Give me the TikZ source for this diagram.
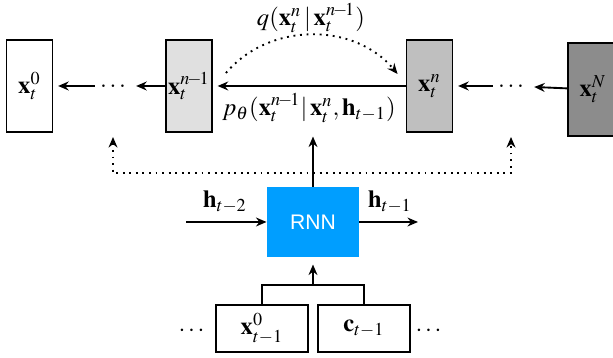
\documentclass[tikz,border=0pt]{standalone}
\usepackage{amsmath}
\usepackage{mathptmx}
\usepackage{bm}
\usepackage{fontspec}
\newfontfamily\rnnfont{Liberation Sans}
\usetikzlibrary{arrows.meta,calc}
\definecolor{rnnblue}{RGB}{0,158,255}
\tikzset{
>={Stealth[length=4.5pt,width=3.8pt]},
box node/.style={draw,thick,minimum width=0.69cm,minimum height=1.38cm,inner sep=0pt},
in node/.style={draw,thick,minimum width=1.38cm,minimum height=0.71cm,inner sep=0pt},
dots node/.style={minimum width=0.54cm,inner sep=0pt},
freccia/.style={->,shorten >=2pt,thick},
punti/.style={->,dotted,thick}}

\begin{document}
\begin{tikzpicture}[x=0.015cm,y=0.015cm,font=\fontsize{10.5}{12}\selectfont]
\useasboundingbox (0,0) rectangle (613,358);

\node[box node] (x0) at (29.5,272) {$\mathbf{x}_t^0$};
\node[dots node] (d1) at (113,272) {$\ldots$};
\node[box node,fill=black!12] (xn1) at (189,272) {$\mathbf{x}_t^{n\!-\!1}$};
\node[box node,fill=black!25] (xn) at (429.5,272) {$\mathbf{x}_t^n$};
\node[dots node] (d2) at (511,272) {$\ldots$};
\node[box node,fill=black!45,minimum width=0.75cm,minimum height=1.4cm,anchor=west] (xN) at (567,268.5) {$\mathbf{x}_t^N$};

\path[freccia] (xn1) edge (d1);
\path[freccia] (d1) edge (x0);
\path[freccia] (xn) edge (xn1);
\path[freccia] (xN) edge (d2);
\path[freccia] (d2) edge (xn);

% forward step
\draw[punti] ($(xn1.east)+(13,13)$) to[bend left=50] ($(xn.west)+(-8,12)$);
\node (q) at (311,340) {$q(\mathbf{x}_t^n\,|\,\mathbf{x}_t^{n\!-\!1})$};
\node (p) at (309,250) {$p_\theta(\mathbf{x}_t^{n\!-\!1}|\,\mathbf{x}_t^n,\mathbf{h}_{t-1})$};

% rnn
\node[fill=rnnblue,minimum width=1.38cm,minimum height=1.05cm,text=white,font=\rnnfont\small] (rnn) at (313,136) {RNN};
\coordinate (hin) at (186,136);
\coordinate (hout) at (418,136);
\draw[->,thick] (hin) -- (rnn);
\draw[->,thick] (rnn) -- (hout);
\node (ht2) at (225,156) {$\mathbf{h}_{t-2}$};
\node (ht1) at (390,156) {$\mathbf{h}_{t-1}$};

\draw[->,thick] (rnn) -- ($(rnn.north)+(0,50)$);
\draw[dotted,thick,<->] ($(d1)+(0,-51)$) -- ($(d1)+(0,-87)$) -- ($(d2)+(0,-87)$) -- ($(d2)+(0,-51)$);

% inputs
\node[in node] (xprev) at (262,29.5) {$\mathbf{x}_{t-1}^0$};
\node[in node] (cprev) at (364,29.5) {$\mathbf{c}_{t-1}$};
\node (d3) at (193,27) {$\bm{\cdots}$};
\node (d4) at (430,27) {$\bm{\cdots}$};
\coordinate (jn) at (313,73);
\draw[thick] (xprev.north) |- (jn) -| (cprev.north);
\draw[->,thick,shorten >=3pt] (jn) -- (rnn.south);

\end{tikzpicture}
\end{document}
